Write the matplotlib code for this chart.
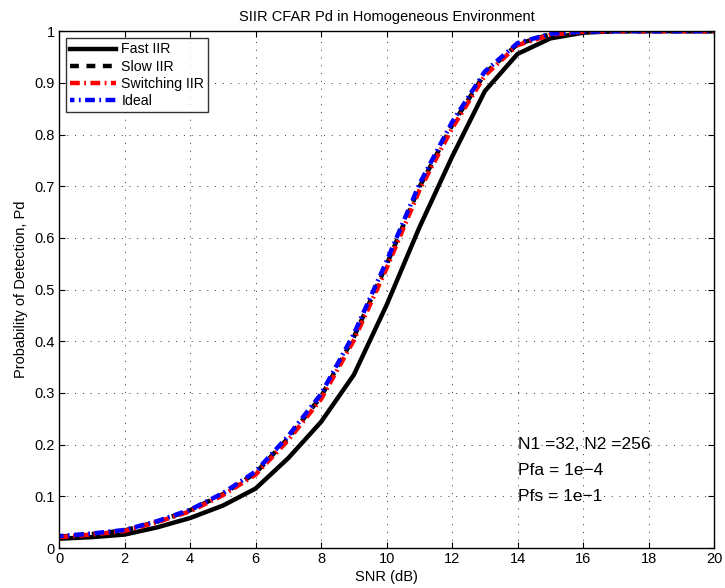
import matplotlib
matplotlib.use("Agg")
import matplotlib.pyplot as plt

plt.rcParams['font.family'] = ['Liberation Sans', 'DejaVu Sans']

snr_db = [0, 1, 2, 3, 4, 5, 6, 7, 8, 9, 10, 11, 12, 13, 14, 15, 16, 17, 18, 19, 20]

pd_fast = [0.018, 0.021, 0.026, 0.040, 0.058, 0.082, 0.115, 0.174, 0.244, 0.335, 0.470,
           0.620, 0.757, 0.884, 0.956, 0.986, 0.997, 1.0, 1.0, 1.0, 1.0]
pd_slow = [0.022, 0.027, 0.034, 0.051, 0.073, 0.104, 0.145, 0.213, 0.293, 0.408, 0.548,
           0.698, 0.818, 0.918, 0.975, 0.994, 0.999, 1.0, 1.0, 1.0, 1.0]
pd_switch = [0.021, 0.026, 0.033, 0.050, 0.071, 0.102, 0.142, 0.209, 0.288, 0.402, 0.541,
             0.692, 0.812, 0.914, 0.973, 0.993, 0.999, 1.0, 1.0, 1.0, 1.0]
pd_ideal = [0.023, 0.028, 0.035, 0.052, 0.074, 0.106, 0.148, 0.217, 0.298, 0.414, 0.555,
            0.704, 0.824, 0.922, 0.977, 0.995, 0.999, 1.0, 1.0, 1.0, 1.0]

x_ticks = [0, 2, 4, 6, 8, 10, 12, 14, 16, 18, 20]
y_ticks = [0, 0.1, 0.2, 0.3, 0.4, 0.5, 0.6, 0.7, 0.8, 0.9, 1]
y_ticklabels = ['0', '0.1', '0.2', '0.3', '0.4', '0.5', '0.6', '0.7', '0.8', '0.9', '1']

fig = plt.figure(figsize=(7.25, 5.88), dpi=100)
ax = fig.add_axes([0.0814, 0.068, 0.9036, 0.879])

ax.plot(snr_db, pd_fast, color='black', linestyle='-', linewidth=3.2, label='Fast IIR')
ax.plot(snr_db, pd_slow, color='black', linestyle=(0, (2, 1.7)), linewidth=3.2, label='Slow IIR')
ax.plot(snr_db, pd_switch, color='red', linestyle=(0, (2.2, 1.0, 0.4, 1.0)), linewidth=3.2,
        label='Switching IIR')
ax.plot(snr_db, pd_ideal, color='blue', linestyle=(1.2, (2.2, 1.0, 0.4, 1.0)), linewidth=3.2,
        label='Ideal')

ax.set_xlim(0, 20)
ax.set_ylim(0, 1)
ax.set_xticks(x_ticks)
ax.set_yticks(y_ticks)
ax.set_yticklabels(y_ticklabels)
ax.tick_params(direction='in', length=4, width=0.8, top=True, right=True,
               labelsize=10.5, pad=3)
ax.grid(True, linestyle=(0, (1, 7)), color='black', linewidth=0.7, alpha=0.8)
for s in ax.spines.values():
    s.set_linewidth(1.0)

ax.set_title('SIIR CFAR Pd in Homogeneous Environment', fontsize=10.5, pad=7)
ax.set_xlabel('SNR (dB)', fontsize=10.5, labelpad=2.5)
ax.set_ylabel('Probability of Detection, Pd', fontsize=10.5, labelpad=5)

leg = ax.legend(loc='upper left', fontsize=10.2, frameon=True, fancybox=False,
                edgecolor='black', handlelength=3.2, borderpad=0.3, labelspacing=0.22,
                handletextpad=0.4, borderaxespad=0.5)
leg.get_frame().set_linewidth(1.0)

ax.text(14.0, 0.2, 'N1 =32, N2 =256', fontsize=12.5, va='center', ha='left')
ax.text(14.0, 0.15, 'Pfa = 1e\u22124', fontsize=12.5, va='center', ha='left')
ax.text(14.0, 0.1, 'Pfs = 1e\u22121', fontsize=12.5, va='center', ha='left')

fig.savefig('out.png', dpi=100)
